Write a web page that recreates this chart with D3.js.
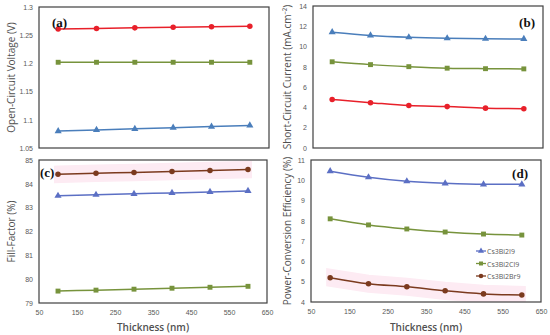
<!DOCTYPE html>
<html lang="en">
<head>
<meta charset="UTF-8">
<title>Thickness study</title>
<script src="https://cdnjs.cloudflare.com/ajax/libs/d3/7.8.5/d3.min.js"></script>
<style>
  body { margin: 0; background: #fff; }
  svg { display: block; font-family: "Open Sans", "Noto Sans", sans-serif; }
  .tick text { fill: #595959; font-size: 7px; }
  .atitle { fill: #505050; font-size: 10px; }
  .plabel { font-family: "Liberation Serif", "DejaVu Serif", serif; font-weight: bold; font-size: 13px; fill: #111; }
</style>
</head>
<body>
<svg width="550" height="335"></svg>
<script>
var thickness = [100, 200, 300, 400, 500, 600];
var xTicks = [50, 150, 250, 350, 450, 550, 650];

// open-circuit voltage (V)
var vocI  = [1.080, 1.082, 1.084, 1.086, 1.088, 1.090];
var vocCl = [1.202, 1.202, 1.202, 1.202, 1.202, 1.202];
var vocBr = [1.261, 1.262, 1.263, 1.264, 1.265, 1.266];

// short-circuit current (mA.cm-2)
var jscI  = [11.42, 11.10, 10.92, 10.82, 10.77, 10.75];
var jscCl = [8.50, 8.22, 8.02, 7.87, 7.82, 7.80];
var jscBr = [4.78, 4.47, 4.18, 4.08, 3.93, 3.88];

// fill factor (%)
var ffI  = [83.50, 83.54, 83.58, 83.62, 83.66, 83.70];
var ffCl = [79.50, 79.54, 79.58, 79.62, 79.66, 79.70];
var ffBr = [84.40, 84.44, 84.48, 84.52, 84.56, 84.60];

// power conversion efficiency (%)
var pceI  = [10.45, 10.15, 9.95, 9.85, 9.80, 9.80];
var pceCl = [8.10, 7.80, 7.60, 7.45, 7.35, 7.30];
var pceBr = [5.20, 4.90, 4.75, 4.55, 4.40, 4.35];

var names = ['Cs3Bi2I9', 'Cs3Bi2Cl9', 'Cs3Bi2Br9'];

var svg = d3.select('svg');

var panels = [
  { box: [39, 269, 7, 148], yd: [1.05, 1.3], yt: d3.range(1.05, 1.31, 0.05), fmt: function(d) { return +d.toFixed(2); },
    series: [vocI, vocCl, vocBr], colors: ['#4a7ebb', '#77933c', '#e8202a'], title: 'Open-Circuit Voltage (V)',
    label: '(a)', lx: 52, ly: 27, anchor: 'start', xlab: false, tx: 12 },
  { box: [313, 543, 6, 148], yd: [0, 14], yt: d3.range(0, 15, 2), fmt: d3.format('d'),
    series: [jscI, jscCl, jscBr], colors: ['#4a7ebb', '#77933c', '#e8202a'], title: 'Short-Circuit Current (mA.cm\u207B\u00B2)',
    label: '(b)', lx: 535, ly: 27, anchor: 'end', xlab: false, tx: 288 },
  { box: [39, 267, 160, 303], yd: [79, 85], yt: d3.range(79, 86, 1), fmt: d3.format('d'),
    series: [ffI, ffCl, ffBr], colors: ['#5b6fc4', '#77933c', '#7b3a1e'], title: 'Fill-Factor (%)',
    label: '(c)', lx: 40, ly: 177, anchor: 'start', xlab: true, tx: 12, band: [ffBr, 0.2] },
  { box: [311, 541, 160, 302], yd: [4, 11], yt: d3.range(4, 12, 1), fmt: d3.format('d'),
    series: [pceI, pceCl, pceBr], colors: ['#5b6fc4', '#77933c', '#7b3a1e'], title: 'Power-Conversion Efficiency (%)',
    label: '(d)', lx: 528, ly: 178, anchor: 'end', xlab: true, tx: 288, band: [pceBr, 0.25], legend: true }
];

var markers = [d3.symbolTriangle, d3.symbolSquare, d3.symbolCircle];

panels.forEach(function(p, pi) {
  var x = d3.scaleLinear().domain([50, 650]).range([p.box[0], p.box[1]]);
  var y = d3.scaleLinear().domain(p.yd).range([p.box[3], p.box[2]]);
  var g = svg.append('g');

  // faint pink shading behind the Br series (as in source image)
  if (p.band) {
    var b = p.band;
    g.append('clipPath').attr('id', 'clip' + pi)
      .append('rect')
      .attr('x', p.box[0]).attr('y', p.box[2])
      .attr('width', p.box[1] - p.box[0]).attr('height', p.box[3] - p.box[2]);
    g.append('path')
      .attr('clip-path', 'url(#clip' + pi + ')')
      .attr('d', d3.area()
        .x(function(d, i) { return x(thickness[i]); })
        .y0(function(d) { return y(d - b[1]); })
        .y1(function(d) { return y(d + b[1]); })(b[0]))
      .attr('fill', '#fdebf3')
      .attr('stroke', '#fdebf3').attr('stroke-width', 8);
  }

  var ya = g.append('g')
    .attr('transform', 'translate(' + p.box[0] + ',0)')
    .call(d3.axisLeft(y).tickValues(p.yt).tickSize(0).tickPadding(6).tickFormat(p.fmt));
  ya.select('.domain').remove();

  if (p.xlab) {
    var xa = g.append('g')
      .attr('transform', 'translate(0,' + p.box[3] + ')')
      .call(d3.axisBottom(x).tickValues(xTicks).tickSize(0).tickPadding(7).tickFormat(d3.format('d')));
    xa.select('.domain').remove();
    g.append('text').attr('class', 'atitle')
      .attr('x', (p.box[0] + p.box[1]) / 2).attr('y', 331)
      .attr('text-anchor', 'middle').style('font-weight', '600')
      .text('Thickness (nm)');
  }

  g.append('text').attr('class', 'atitle')
    .attr('transform', 'translate(' + (p.tx + 3) + ',' + ((p.box[2] + p.box[3]) / 2) + ') rotate(-90)')
    .attr('text-anchor', 'middle')
    .text(p.title);

  p.series.forEach(function(s, k) {
    var line = d3.line()
      .curve(d3.curveMonotoneX)
      .x(function(d, i) { return x(thickness[i]); })
      .y(function(d) { return y(d); });
    g.append('path').attr('d', line(s))
      .attr('fill', 'none').attr('stroke', p.colors[k]).attr('stroke-width', 1.5);
    g.selectAll(null).data(s).enter().append('path')
      .attr('d', d3.symbol().type(markers[k]).size(k === 0 ? 22 : 24))
      .attr('transform', function(d, i) { return 'translate(' + x(thickness[i]) + ',' + y(d) + ')'; })
      .attr('fill', p.colors[k]);
  });

  g.append('rect')
    .attr('x', p.box[0]).attr('y', p.box[2])
    .attr('width', p.box[1] - p.box[0]).attr('height', p.box[3] - p.box[2])
    .attr('fill', 'none').attr('stroke', '#404040').attr('stroke-width', 1.2);

  g.append('text').attr('class', 'plabel')
    .attr('x', p.lx).attr('y', p.ly).attr('text-anchor', p.anchor)
    .text(p.label);

  if (p.legend) {
    var lg = g.append('g').attr('transform', 'translate(480,251)');
    names.forEach(function(n, k) {
      var row = lg.append('g').attr('transform', 'translate(0,' + (k * 12.5) + ')');
      row.append('line').attr('x1', -4).attr('x2', 6).attr('stroke', p.colors[k]).attr('stroke-width', 1.3);
      row.append('path').attr('d', d3.symbol().type(markers[k]).size(16)).attr('transform', 'translate(1,0)').attr('fill', p.colors[k]);
      row.append('text').attr('x', 7).attr('y', 3).style('font-size', '7px').attr('fill', '#595959').text(n);
    });
  }
});
</script>
</body>
</html>
